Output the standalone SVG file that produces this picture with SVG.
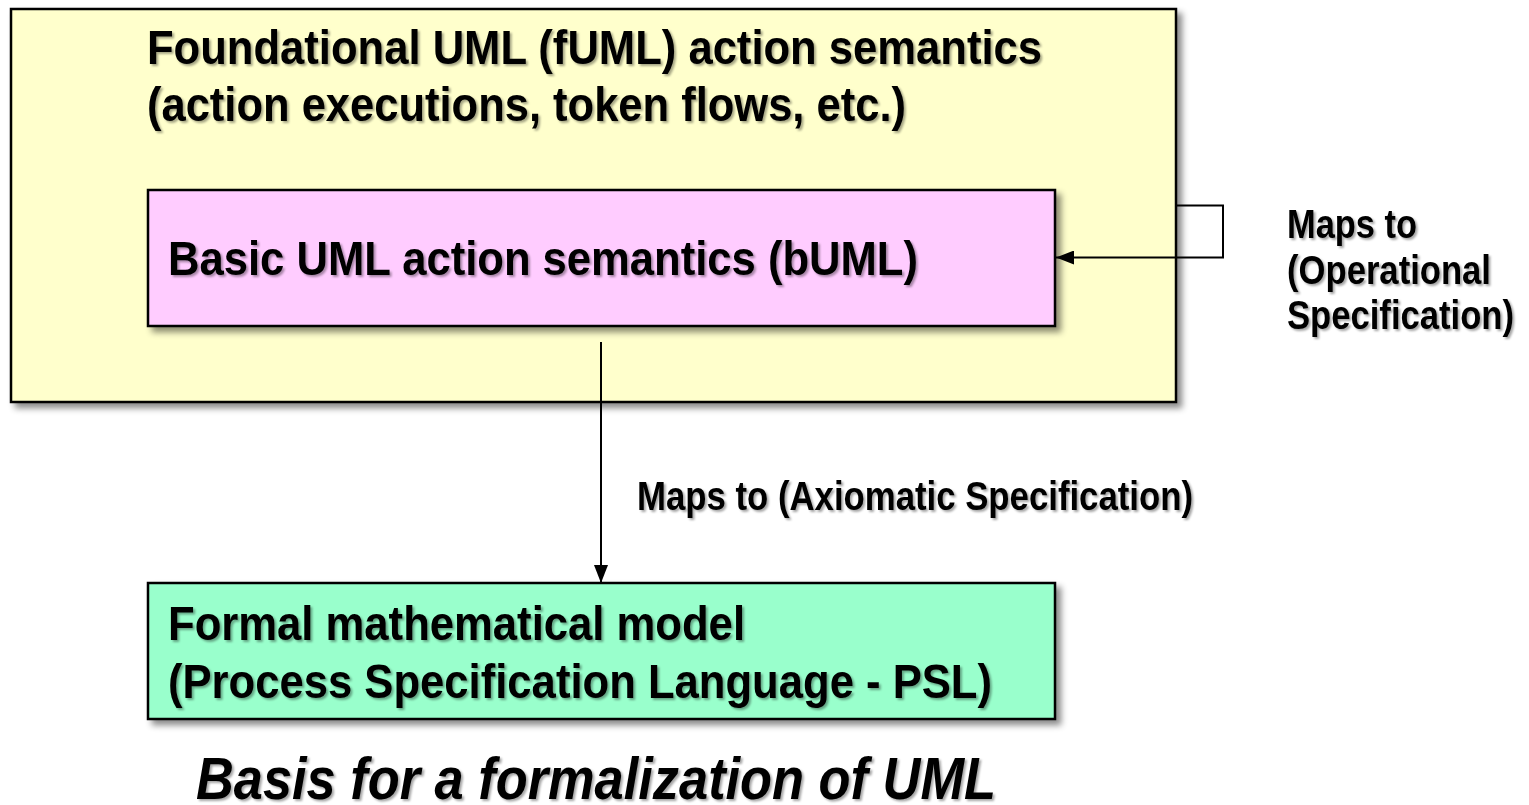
<svg xmlns="http://www.w3.org/2000/svg" width="1529" height="805" viewBox="0 0 1529 805">
  <defs>
    <filter id="boxShadow" x="-5%" y="-5%" width="115%" height="120%">
      <feDropShadow dx="5" dy="5" stdDeviation="3" flood-color="#000" flood-opacity="0.45"/>
    </filter>
    <filter id="textShadow" x="-5%" y="-20%" width="110%" height="150%">
      <feDropShadow dx="2" dy="2" stdDeviation="1" flood-color="#000" flood-opacity="0.35"/>
    </filter>
    <marker id="arrow" viewBox="0 0 18 14" refX="18" refY="7" markerWidth="18" markerHeight="14" markerUnits="userSpaceOnUse" orient="auto">
      <path d="M0,0 L18,7 L0,14 Z" fill="#000"/>
    </marker>
    <style>
      .box { stroke: #000; stroke-width: 2.5; filter: url(#boxShadow); }
      .lbl { font-family: "Liberation Sans", Arial, sans-serif; font-weight: bold; fill: #000; filter: url(#textShadow); }
      .big { font-size: 49px; }
      .small { font-size: 41px; }
      .title { font-size: 59px; font-style: italic; }
      .conn { fill: none; stroke: #000; stroke-width: 2; }
    </style>
  </defs>

  <rect width="1529" height="805" fill="#fff"/>

  <!-- fUML container -->
  <g id="fuml">
    <rect class="box" x="11" y="9" width="1165" height="393" fill="#FFFFCC"/>
    <text class="lbl big" x="147" y="64" textLength="895" lengthAdjust="spacingAndGlyphs">Foundational UML (fUML) action semantics</text>
    <text class="lbl big" x="147" y="121" textLength="759" lengthAdjust="spacingAndGlyphs">(action executions, token flows, etc.)</text>
  </g>

  <!-- bUML subset -->
  <g id="buml">
    <rect class="box" x="148" y="190" width="907" height="136" fill="#FFCCFF"/>
    <text class="lbl big" x="168" y="275" textLength="750" lengthAdjust="spacingAndGlyphs">Basic UML action semantics (bUML)</text>
  </g>

  <!-- PSL model -->
  <g id="psl">
    <rect class="box" x="148" y="583" width="907" height="136" fill="#99FFCC"/>
    <text class="lbl big" x="168" y="640" textLength="577" lengthAdjust="spacingAndGlyphs">Formal mathematical model</text>
    <text class="lbl big" x="168" y="698" textLength="824" lengthAdjust="spacingAndGlyphs">(Process Specification Language - PSL)</text>
  </g>

  <!-- mappings -->
  <g id="connectors">
    <path class="conn" d="M1176,205.5 H1223 V257.5 H1056" marker-end="url(#arrow)"/>
    <path class="conn" d="M601,342 V583" marker-end="url(#arrow)"/>
  </g>

  <g id="labels">
    <text class="lbl small" x="1287" y="238" textLength="130" lengthAdjust="spacingAndGlyphs">Maps to</text>
    <text class="lbl small" x="1287" y="284" textLength="204" lengthAdjust="spacingAndGlyphs">(Operational</text>
    <text class="lbl small" x="1287" y="329" textLength="227" lengthAdjust="spacingAndGlyphs">Specification)</text>
    <text class="lbl small" x="637" y="510" textLength="556" lengthAdjust="spacingAndGlyphs">Maps to (Axiomatic Specification)</text>
  </g>

  <g id="caption">
    <text class="lbl title" x="196" y="799" textLength="800" lengthAdjust="spacingAndGlyphs">Basis for a formalization of UML</text>
  </g>
</svg>
